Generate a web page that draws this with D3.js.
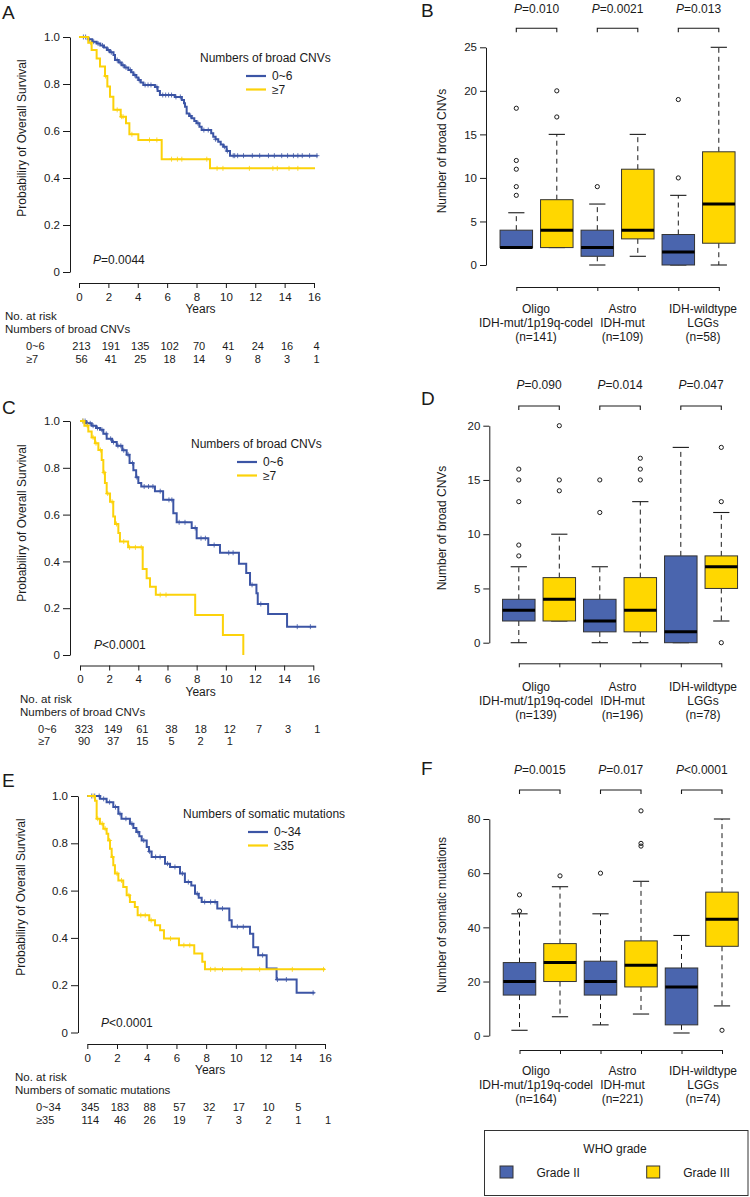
<!DOCTYPE html>
<html><head><meta charset="utf-8">
<script src="https://cdn.jsdelivr.net/npm/d3@7/dist/d3.min.js"></script>
<style>
body{margin:0;background:#fff}
svg{display:block}
text{font-family:"Liberation Sans",Arial,Helvetica,sans-serif;fill:#1a1a1a}
</style>
</head><body>
<svg id="chart" width="750" height="1197"></svg>
<script>
// ---------------- DATA ----------------
const yearTicks = [0,2,4,6,8,10,12,14,16];
const survTicks = [0,0.2,0.4,0.6,0.8,1.0];
const survTickLabels = ["0","0.2","0.4","0.6","0.8","1.0"];

// Kaplan-Meier steps [years, survival]
const kmA_low = [[0,1.0],[0.6,0.99],[0.9,0.98],[1.2,0.972],[1.45,0.964],[1.7,0.955],[1.9,0.945],[2.1,0.935],[2.35,0.923],[2.45,0.902],[2.7,0.892],[2.9,0.88],[3.1,0.87],[3.36,0.86],[3.55,0.85],[3.7,0.838],[3.9,0.828],[4.04,0.817],[4.2,0.806],[4.38,0.796],[5.17,0.787],[5.35,0.77],[5.51,0.753],[6.53,0.745],[7.0,0.732],[7.15,0.718],[7.22,0.703],[7.33,0.675],[7.5,0.664],[7.67,0.654],[7.85,0.643],[8.0,0.633],[8.2,0.618],[8.35,0.604],[9.0,0.59],[9.14,0.576],[9.3,0.565],[9.48,0.554],[9.65,0.543],[9.82,0.533],[10.05,0.515],[10.28,0.495],[16.25,0.495]];
const kmA_high = [[0,1.0],[0.63,0.976],[0.86,0.945],[1.2,0.909],[1.43,0.874],[1.77,0.834],[1.93,0.789],[2.11,0.746],[2.34,0.69],[2.84,0.661],[3.2,0.633],[3.43,0.586],[4.04,0.562],[5.63,0.48],[8.92,0.441],[16.07,0.441]];
const kmC_low = [[0,1.0],[0.4,0.99],[0.8,0.98],[1.1,0.97],[1.37,0.963],[1.6,0.945],[1.83,0.924],[2.2,0.91],[2.52,0.894],[2.9,0.875],[3.2,0.856],[3.4,0.82],[3.66,0.79],[3.85,0.76],[4.0,0.735],[4.2,0.72],[5.14,0.70],[5.7,0.663],[6.4,0.606],[6.63,0.567],[7.66,0.543],[8.0,0.499],[8.8,0.47],[9.6,0.437],[10.9,0.39],[11.4,0.35],[11.66,0.30],[12.1,0.264],[12.19,0.218],[12.9,0.175],[14.2,0.121],[16.2,0.121]];
const kmC_high = [[0,1.0],[0.3,0.98],[0.57,0.955],[0.8,0.93],[1.03,0.905],[1.26,0.876],[1.49,0.833],[1.6,0.78],[1.71,0.735],[1.83,0.69],[2.06,0.655],[2.28,0.592],[2.4,0.56],[2.63,0.521],[2.74,0.485],[3.3,0.46],[4.3,0.367],[4.57,0.328],[4.8,0.292],[5.2,0.257],[7.9,0.171],[9.8,0.086],[11.2,0.0]];
const kmE_low = [[0,1.0],[0.85,0.988],[1.3,0.974],[1.75,0.953],[2.09,0.925],[2.3,0.904],[2.87,0.883],[3.1,0.865],[3.3,0.848],[3.5,0.83],[3.66,0.812],[4.0,0.784],[4.15,0.765],[4.33,0.742],[5.23,0.714],[5.57,0.70],[6.24,0.672],[6.57,0.636],[7.0,0.622],[7.25,0.587],[7.5,0.57],[7.7,0.552],[8.75,0.524],[9.56,0.475],[9.72,0.447],[10.95,0.418],[11.17,0.36],[11.5,0.327],[12.07,0.271],[12.74,0.224],[14.09,0.168],[15.3,0.168]];
const kmE_high = [[0,1.0],[0.52,0.98],[0.63,0.904],[0.85,0.883],[1.08,0.862],[1.3,0.84],[1.41,0.812],[1.53,0.777],[1.64,0.742],[1.75,0.707],[1.86,0.672],[2.09,0.643],[2.42,0.615],[2.65,0.58],[2.87,0.552],[3.2,0.531],[3.39,0.496],[4.17,0.475],[4.56,0.454],[4.9,0.432],[5.16,0.397],[6.17,0.369],[7.2,0.334],[7.74,0.299],[7.92,0.267],[16.0,0.267]];

// censoring times (years)
const censA_low = [0.3,0.45,0.7,1.0,1.3,1.6,2.0,2.2,2.6,2.8,3.0,3.2,3.5,3.8,4.1,4.5,4.7,4.9,5.3,5.7,5.9,6.1,6.3,6.6,6.9,7.6,8.1,8.5,8.8,9.3,9.9,10.1,10.5,10.6,10.8,11.2,11.8,12.3,12.9,13.3,13.8,14.2,14.6,14.9,15.2,15.7,16.2];
const censA_high = [0.8,1.8,2.6,2.9,3.0,3.6,4.8,5.3,6.3,6.7,7.0,8.7,9.4,9.8,11.6,13.2,13.5,14.3,14.9];
const censC_low = [0.2,0.35,0.5,0.7,0.9,1.2,1.5,1.8,2.1,2.3,2.6,2.8,3.0,3.3,3.6,3.9,4.4,4.7,5.0,5.5,6.1,6.3,6.8,7.2,7.9,8.3,8.6,9.2,10.2,10.5,11.8,12.4,14.9,15.8];
const censC_high = [0.2,0.5,0.9,1.1,1.4,1.65,1.9,2.2,2.5,3.0,3.4,3.8,4.2,5.5,5.9];
const censE_low = [0.3,0.5,0.8,1.1,1.5,1.9,2.2,2.6,3.0,3.4,3.8,4.2,4.6,4.9,5.4,5.9,6.4,6.8,7.4,7.9,8.3,8.6,9.1,10.1,10.5,11.8,12.8,13.4,15.2];
const censE_high = [0.4,0.7,1.0,1.2,1.5,1.7,2.0,2.3,2.8,3.6,3.9,4.3,5.6,6.5,6.9,8.3,8.6,9.1,10.4,11.6,13.8,15.9];

// numbers at risk
const riskA_low = [213,191,135,102,70,41,24,16,4];
const riskA_high = [56,41,25,18,14,9,8,3,1];
const riskC_low = [323,149,61,38,18,12,7,3,1];
const riskC_high = [90,37,15,5,2,1];
const riskE_low = [345,183,88,57,32,17,10,5];
const riskE_high = [114,46,26,19,7,3,2,1,1];

// boxplots: [lower whisker, Q1, median, Q3, upper whisker], order: Oligo II, Oligo III, Astro II, Astro III, IDHwt II, IDHwt III
const boxB = [[2,2,2,4,6],[2,2,4,7.5,15],[0,1,2,4,7],[1,3,4,11,15],[0,0,1.5,3.5,8],[0,2.5,7,13,25]];
const outB = [[8,9,11,12,18],[17,20],[9],[],[10,19],[]];
const boxD = [[0,2,3,4,7],[2,2,4,6,10],[0,1,2,4,7],[0,1,3,6,13],[0,0,1,8,18],[2,5,7,8,12]];
const outD = [[8,9,13,15,16],[14,15,20],[12,15],[15,16,17],[],[0,13,18]];
const boxF = [[2,15,20,27,45],[7,20,27,34,55],[4,15,20,27.5,45],[8,18,26,35,57],[1,4,18,25,37],[11,33,43,53,80]];
const outF = [[46,52],[59],[60],[70,71,83],[],[2]];

const groupLines = [["Oligo","IDH-mut/1p19q-codel"],["Astro","IDH-mut"],["IDH-wildtype","LGGs"]];
const nB = [141,109,58], nD = [139,196,78], nF = [164,221,74];
const pB = [["=","0.010"],["=","0.0021"],["=","0.013"]];
const pD = [["=","0.090"],["=","0.014"],["=","0.047"]];
const pF = [["=","0.0015"],["=","0.017"],["<","0.0001"]];
const ticksB = [0,5,10,15,20,25], ticksD = [0,5,10,15,20], ticksF = [0,20,40,60,80];
const grades = ["Grade II","Grade III"];

// ---------------- STYLE ----------------
const BLUE_LINE = "#3c55a5", YEL_LINE = "#fcd20a";
const BLUE_BOX = "#4a65ae", YEL_BOX = "#ffd700";
const INK = "#1a1a1a";

const svg = d3.select("#chart");

function ptext(g, x, y, op, val, size){
  const t = g.append("text").attr("x",x).attr("y",y).attr("text-anchor","middle").attr("font-size",size||12);
  t.append("tspan").attr("font-style","italic").text("P");
  t.append("tspan").text(op+val);
  return t;
}
function letter(x,y,s){ svg.append("text").attr("x",x).attr("y",y).attr("font-size",19).text(s); }

function styleAxis(g, size){
  g.attr("font-family",null).attr("font-size",null);
  g.selectAll("path,line").attr("stroke",INK);
  g.selectAll("text").attr("font-size",size).style("fill",INK);
}

// ---------------- KM PANEL ----------------
function kmPanel(c){
  const g = svg.append("g");
  const x = d3.scaleLinear().domain([0,16]).range([c.x0,c.x1]);
  const y = d3.scaleLinear().domain([0,1]).range([c.yBot,c.yTop]);
  const ya = g.append("g").attr("transform",`translate(${c.ax},0)`)
    .call(d3.axisLeft(y).tickValues(survTicks).tickFormat((d,i)=>survTickLabels[i]).tickSize(7).tickSizeOuter(0).tickPadding(3));
  styleAxis(ya, 11.5);
  const xa = g.append("g").attr("transform",`translate(0,${c.axY})`)
    .call(d3.axisBottom(x).tickValues(yearTicks).tickSize(5).tickSizeOuter(0).tickPadding(4.5));
  styleAxis(xa, 11.5);
  g.append("text").attr("x",(c.x0+c.x1)/2+4).attr("y",c.axY+30).attr("text-anchor","middle").attr("font-size",12).text("Years");
  g.append("text").attr("transform",`translate(${c.ylx},${c.yly}) rotate(-90)`).attr("text-anchor","middle").attr("font-size",12)
    .text("Probabiliry of Overall Survival");

  const line = d3.line().x(d=>x(d[0])).y(d=>y(d[1])).curve(d3.curveStepAfter);
  const survAt = (curve,t)=>{ let s=curve[0][1]; for(const p of curve){ if(p[0]<=t) s=p[1]; } return s; };
  c.curves.forEach(cv=>{
    g.append("path").attr("d",line(cv.data)).attr("fill","none").attr("stroke",cv.color).attr("stroke-width",2);
    const cg = g.append("g").attr("stroke",cv.color).attr("stroke-width",1).attr("opacity",0.8);
    cv.cens.forEach(t=>{
      const px=x(t), py=y(survAt(cv.data,t));
      cg.append("line").attr("x1",px-2.5).attr("x2",px+2.5).attr("y1",py).attr("y2",py);
      cg.append("line").attr("x1",px).attr("x2",px).attr("y1",py-2.5).attr("y2",py+2.5);
    });
  });
  // legend
  g.append("text").attr("x",c.lgx).attr("y",c.lgy).attr("font-size",12).text(c.lgTitle);
  c.curves.forEach((cv,i)=>{
    const yy = c.lgy+14+i*13.5;
    g.append("line").attr("x1",c.lgl).attr("x2",c.lgl+20).attr("y1",yy).attr("y2",yy).attr("stroke",cv.color).attr("stroke-width",2.2);
    g.append("text").attr("x",c.lgl+26).attr("y",yy+4).attr("font-size",12).text(cv.name);
  });
  // p-value
  const pt = g.append("text").attr("x",c.px).attr("y",c.py).attr("font-size",12);
  pt.append("tspan").attr("font-style","italic").text("P"); pt.append("tspan").text(c.ptxt);
  // risk table
  g.append("text").attr("x",c.rx).attr("y",c.axY+37).attr("font-size",11.5).text("No. at risk");
  g.append("text").attr("x",c.rx).attr("y",c.axY+50).attr("font-size",11.5).text(c.lgTitle);
  c.curves.forEach((cv,i)=>{
    const yy = c.axY+67+i*12.5;
    g.append("text").attr("x",c.rlx).attr("y",yy).attr("font-size",11).text(cv.name);
    cv.risk.forEach((v,j)=>{
      g.append("text").attr("x",x(yearTicks[j])+c.roff).attr("y",yy).attr("text-anchor","middle").attr("font-size",11).text(v);
    });
  });
}

kmPanel({x0:79,x1:314,yTop:37,yBot:272,ax:70,axY:283,ylx:26,yly:138,
  lgTitle:"Numbers of broad CNVs",lgx:200,lgy:62,lgl:246,px:93,py:264,ptxt:"=0.0044",rx:5,rlx:26,roff:2.5,
  curves:[{name:"0~6",color:BLUE_LINE,data:kmA_low,cens:censA_low,risk:riskA_low},
          {name:"≥7",color:YEL_LINE,data:kmA_high,cens:censA_high,risk:riskA_high}]});
kmPanel({x0:80,x1:313.3,yTop:421,yBot:655,ax:70,axY:665.5,ylx:26,yly:523,
  lgTitle:"Numbers of broad CNVs",lgx:191,lgy:448,lgl:237,px:94,py:649,ptxt:"<0.0001",rx:20,rlx:38,roff:4,
  curves:[{name:"0~6",color:BLUE_LINE,data:kmC_low,cens:censC_low,risk:riskC_low},
          {name:"≥7",color:YEL_LINE,data:kmC_high,cens:censC_high,risk:riskC_high}]});
kmPanel({x0:87.3,x1:325,yTop:796,yBot:1032.5,ax:78,axY:1044,ylx:25,yly:897,
  lgTitle:"Numbers of somatic mutations",lgx:183,lgy:818,lgl:248,px:101,py:1027,ptxt:"<0.0001",rx:15,rlx:36,roff:3,
  curves:[{name:"0~34",color:BLUE_LINE,data:kmE_low,cens:censE_low,risk:riskE_low},
          {name:"≥35",color:YEL_LINE,data:kmE_high,cens:censE_high,risk:riskE_high}]});

// ---------------- BOX PANEL ----------------
function boxPanel(c){
  const g = svg.append("g");
  const y = d3.scaleLinear().domain([0,c.top]).range([c.y0,c.yTop]);
  const x = d3.scalePoint().domain(d3.range(6)).range([c.c0,c.c0+5*40.5]);
  const bw = 32.5;
  const ya = g.append("g").attr("transform",`translate(${c.ax},0)`)
    .call(d3.axisLeft(y).tickValues(c.ticks).tickSize(6).tickSizeOuter(0).tickPadding(3));
  styleAxis(ya, 11.5);
  const xa = g.append("g").attr("transform",`translate(0,${c.axY})`)
    .call(d3.axisBottom(x).tickSize(4).tickSizeOuter(0).tickFormat(""));
  styleAxis(xa, 11.5);
  g.append("text").attr("transform",`translate(${c.ylx},${c.yly}) rotate(-90)`).attr("text-anchor","middle").attr("font-size",12).text(c.ytitle);

  c.stats.forEach((s,i)=>{
    const cx = x(i), fill = i%2===0?BLUE_BOX:YEL_BOX;
    const [lo,q1,med,q3,hi] = s;
    g.append("line").attr("x1",cx).attr("x2",cx).attr("y1",y(q3)).attr("y2",y(hi)).attr("stroke",INK).attr("stroke-dasharray","5,4");
    g.append("line").attr("x1",cx).attr("x2",cx).attr("y1",y(q1)).attr("y2",y(lo)).attr("stroke",INK).attr("stroke-dasharray","5,4");
    [lo,hi].forEach(v=>g.append("line").attr("x1",cx-bw/4).attr("x2",cx+bw/4).attr("y1",y(v)).attr("y2",y(v)).attr("stroke",INK).attr("stroke-width",1.1));
    g.append("rect").attr("x",cx-bw/2).attr("y",y(q3)).attr("width",bw).attr("height",Math.max(0.5,y(q1)-y(q3)))
      .attr("fill",fill).attr("stroke","#333").attr("stroke-width",1);
    g.append("line").attr("x1",cx-bw/2).attr("x2",cx+bw/2).attr("y1",y(med)).attr("y2",y(med)).attr("stroke","#000").attr("stroke-width",3);
    c.out[i].forEach(v=>g.append("circle").attr("cx",cx).attr("cy",y(v)).attr("r",2.1).attr("fill","none").attr("stroke",INK).attr("stroke-width",1));
  });
  // brackets and p-values
  for(let k=0;k<3;k++){
    const a = x(2*k), b = x(2*k+1);
    g.append("path").attr("d",`M${a},${c.brY+4}V${c.brY}H${b}V${c.brY+4}`).attr("fill","none").attr("stroke",INK).attr("stroke-width",1.1);
    ptext(g,(a+b)/2,c.pY,c.p[k][0],c.p[k][1],12);
  }
  // group labels
  const lx = [536,622.5,703];
  groupLines.forEach((ls,k)=>{
    ls.forEach((t,j)=>g.append("text").attr("x",lx[k]).attr("y",c.lY+j*c.lS).attr("text-anchor","middle").attr("font-size",12).text(t));
    g.append("text").attr("x",lx[k]).attr("y",c.lY+2*c.lS).attr("text-anchor","middle").attr("font-size",12).text(`(n=${c.n[k]})`);
  });
}

boxPanel({top:25,y0:265,yTop:47.3,c0:516.3,ax:486,axY:287,ticks:ticksB,stats:boxB,out:outB,p:pB,n:nB,
  brY:28.3,pY:12.5,lY:313,lS:14,ylx:446,yly:151,ytitle:"Number of broad CNVs"});
boxPanel({top:20,y0:642.7,yTop:425.7,c0:518.8,ax:489.3,axY:663.3,ticks:ticksD,stats:boxD,out:outD,p:pD,n:nD,
  brY:406,pY:389,lY:691,lS:14,ylx:445.5,yly:528,ytitle:"Number of broad CNVs"});
boxPanel({top:80,y0:1035.7,yTop:819,c0:519.5,ax:489.3,axY:1050,ticks:ticksF,stats:boxF,out:outF,p:pF,n:nF,
  brY:790,pY:774,lY:1075,lS:13.8,ylx:445.5,yly:915,ytitle:"Number of somatic mutations"});

// panel letters
letter(2,18.5,"A"); letter(421,16.5,"B"); letter(2,413.5,"C"); letter(421,404.5,"D"); letter(2,786.5,"E"); letter(421,774.5,"F");

// ---------------- LEGEND ----------------
const lg = svg.append("g");
lg.append("rect").attr("x",484.5).attr("y",1130.5).attr("width",263.5).attr("height",65).attr("fill","none").attr("stroke","#333").attr("stroke-width",1);
lg.append("text").attr("x",615).attr("y",1153).attr("text-anchor","middle").attr("font-size",12).text("WHO grade");
grades.forEach((gname,i)=>{
  const sx = i===0?500:646.7;
  lg.append("rect").attr("x",sx).attr("y",1166).attr("width",13).attr("height",12).attr("fill",i===0?BLUE_BOX:YEL_BOX).attr("stroke","#333");
  lg.append("text").attr("x",sx+36.5).attr("y",1176.5).attr("font-size",12).text(gname);
});
</script>
</body></html>
